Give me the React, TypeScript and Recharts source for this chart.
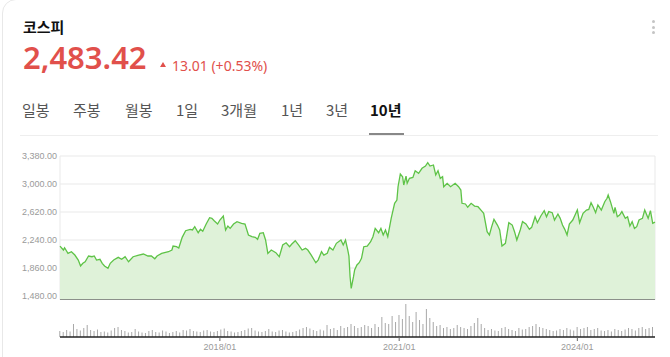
import React from 'react';
import { AreaChart, Area, XAxis, YAxis, CartesianGrid, BarChart, Bar, ReferenceLine } from 'recharts';

// Weekly index counted from 2015-04-27 (week 0) to 2025-04 (week 521)
const START_DATE = '2015-04-27';
const TITLE = '코스피';
const LAST_PRICE = '2,483.42';
const CHANGE_TEXT = '13.01 (+0.53%)';
const TABS = ['일봉', '주봉', '월봉', '1일', '3개월', '1년', '3년', '10년'];
const ACTIVE_TAB = '10년';

const priceWeeks = [0,3,4,7,10,13,16,18,20,22,25,28,30,32,35,37,39,42,44,47,51,54,57,60,64,69,73,77,80,83,85,89,95,98,99,102,104,107,110,114,116,118,121,123,125,128,131,133,135,138,140,143,145,147,149,152,155,159,162,165,168,171,173,175,178,180,181,182,185,189,192,195,198,201,203,206,209,212,215,217,220,224,226,229,231,234,236,239,242,246,248,250,252,253,254,255,257,258,260,262,264,266,269,272,274,276,279,281,283,285,287,290,293,295,296,298,300,301,303,304,306,309,311,314,317,320,322,324,327,329,331,333,335,336,339,342,346,349,351,352,355,357,360,363,366,369,371,374,376,378,380,383,385,387,390,393,396,398,400,403,405,408,411,413,416,418,421,424,426,428,431,433,436,438,440,442,444,446,449,451,453,455,458,461,463,465,467,469,471,474,477,479,480,482,485,486,488,490,492,495,497,499,501,503,505,507,510,512,515,517,519,521];

const priceCloses = [2158,2104,2135,2059,2081,2036,1968,1887,1924,1945,2023,2013,2023,1968,1978,1924,1887,1856,1924,1968,2005,1978,2013,1945,2013,2036,2050,2023,2023,1986,2023,2059,2081,2104,2158,2149,2131,2276,2366,2385,2376,2421,2339,2385,2358,2457,2543,2534,2502,2457,2511,2566,2376,2430,2398,2457,2489,2466,2457,2308,2285,2276,2249,2331,2339,2240,2149,2059,2104,2068,2013,2172,2203,2149,2186,2231,2172,2104,2127,2104,2036,1932,1968,2081,2036,2059,2140,2104,2195,2240,2172,2240,2104,2023,1742,1584,1742,1833,1901,1932,1991,2149,2158,2217,2285,2398,2339,2398,2308,2376,2285,2534,2738,2783,2963,3136,3099,2986,3108,3009,3077,3090,3180,3145,3213,3244,3289,3244,3258,3122,3180,3077,3099,2963,3009,2963,3009,2963,2918,2738,2729,2684,2738,2701,2692,2638,2602,2353,2308,2421,2520,2443,2376,2158,2195,2475,2443,2353,2240,2376,2489,2457,2385,2412,2556,2475,2566,2638,2556,2625,2611,2511,2593,2534,2443,2385,2308,2457,2511,2579,2647,2475,2602,2647,2656,2746,2684,2611,2715,2647,2760,2806,2851,2760,2602,2684,2556,2579,2625,2534,2556,2430,2489,2398,2421,2511,2534,2647,2534,2638,2466,2483];

// Volume (million shares), one value every 3 weeks starting at week 0
const VOLUME_STEP_WEEKS = 3;
const volumes = [600,500,700,550,1300,800,650,900,1200,700,600,750,500,550,450,650,900,1000,700,600,450,500,800,550,450,400,600,700,500,450,650,550,400,500,600,450,700,650,800,600,550,500,650,700,550,500,600,750,850,600,550,450,500,600,700,850,900,650,550,500,600,800,550,500,650,700,550,450,500,600,750,900,1000,850,700,600,750,650,1200,800,900,700,1100,900,1000,1300,1100,900,1000,1200,1100,900,1300,1000,2000,1400,1300,2100,1500,2200,1800,3300,2100,1500,2500,1700,1300,2800,1900,1500,1100,1200,900,1000,800,900,1200,1000,900,800,1100,1400,1900,1300,900,700,800,650,600,900,1000,800,700,600,900,750,800,1000,1100,1300,1000,900,800,700,600,650,800,700,900,750,650,1000,800,900,1000,700,800,900,650,600,700,550,800,700,600,750,900,800,650,900,1000,800,900,1000];

const xTickWeeks = [140, 297, 453];
const xTickLabels = ['2018/01', '2021/01', '2024/01'];
const yTicks = [1480, 1860, 2240, 2620, 3000, 3380];
const yDomain = [1426, 3380];
const xDomain = [0, 521];

const priceData = priceWeeks.map((w, i) => ({ week: w, close: priceCloses[i] }));
const volumeData = volumes.map((v, i) => ({ week: i * VOLUME_STEP_WEEKS, vol: v }));

const fmtPrice = (v: number) =>
  v.toLocaleString('en-US', { minimumFractionDigits: 2, maximumFractionDigits: 2 });
const fmtDate = (w: number) => {
  const i = xTickWeeks.indexOf(w);
  return i >= 0 ? xTickLabels[i] : '';
};

const RED = '#e1504b';
const KR = '"Noto Sans CJK KR", "Noto Sans", sans-serif';

const tabLefts = [22, 73, 125, 176, 221, 281, 326, 370];

export default function App() {
  return (
    <div
      style={{
        position: 'fixed',
        left: 0,
        top: 0,
        width: 670,
        height: 357,
        overflow: 'hidden',
        background: '#fff',
        fontFamily: KR,
      }}
    >
      <div
        style={{
          position: 'absolute',
          left: 2,
          top: -1,
          width: 720,
          height: 420,
          border: '1px solid #e8e8e8',
          borderRadius: 14,
        }}
      />
      <div style={{ position: 'absolute', left: 23, top: 17, fontSize: 15, lineHeight: '20px', fontWeight: 700, color: '#111' }}>
        {TITLE}
      </div>
      {[0, 1, 2].map((i) => (
        <div
          key={i}
          style={{
            position: 'absolute',
            left: 652,
            top: 20 + i * 5.5,
            width: 3,
            height: 3,
            borderRadius: 2,
            background: '#c4c4c4',
          }}
        />
      ))}
      <div
        style={{
          position: 'absolute',
          left: 23,
          top: 40,
          fontSize: 31,
          lineHeight: '35px',
          fontWeight: 600,
          color: RED,
          fontFamily: '"Noto Sans", sans-serif',
        }}
      >
        {LAST_PRICE}
      </div>
      <div
        style={{
          position: 'absolute',
          left: 160,
          top: 62,
          width: 0,
          height: 0,
          borderLeft: '3.5px solid transparent',
          borderRight: '3.5px solid transparent',
          borderBottom: `5px solid ${RED}`,
        }}
      />
      <div
        style={{
          position: 'absolute',
          left: 172,
          top: 58,
          fontSize: 14,
          lineHeight: '16px',
          color: RED,
          fontFamily: '"Noto Sans", sans-serif',
        }}
      >
        {CHANGE_TEXT}
      </div>
      {TABS.map((t, i) => (
        <div
          key={t}
          style={{
            position: 'absolute',
            left: tabLefts[i],
            top: 99,
            fontSize: 15,
            lineHeight: '22px',
            fontWeight: t === ACTIVE_TAB ? 700 : 400,
            color: t === ACTIVE_TAB ? '#111' : '#555',
            whiteSpace: 'nowrap',
          }}
        >
          {t}
        </div>
      ))}
      <div style={{ position: 'absolute', left: 20, top: 135, width: 638, height: 1, background: '#eeeeee' }} />
      <div style={{ position: 'absolute', left: 369, top: 133, width: 35, height: 2, background: '#888' }} />

      <div style={{ position: 'absolute', left: 0, top: 150 }}>
        <AreaChart width={670} height={150} data={priceData} margin={{ top: 6, right: 15, bottom: 0, left: 0 }}>
          <CartesianGrid stroke="#e9e9e9" strokeWidth={1} />
          <XAxis
            dataKey="week"
            type="number"
            domain={xDomain}
            ticks={xTickWeeks}
            tick={false}
            tickLine={false}
            axisLine={false}
            height={0}
          />
          <YAxis
            type="number"
            domain={yDomain}
            ticks={yTicks}
            interval={0}
            width={60}
            tickSize={3}
            tickMargin={0}
            tickLine={false}
            axisLine={false}
            tickFormatter={fmtPrice}
            tick={{ fontSize: 9, fill: '#9a9a9a', fontFamily: '"Liberation Sans", Arial, sans-serif' }}
            allowDataOverflow
          />
          <Area
            type="linear"
            dataKey="close"
            stroke="#5ec347"
            strokeWidth={1.3}
            fill="#dff2d9"
            fillOpacity={1}
            dot={false}
            activeDot={false}
            isAnimationActive={false}
          />
          <ReferenceLine y={yDomain[0]} stroke="#6f6f6f" strokeWidth={1.5} />
        </AreaChart>
      </div>

      <div style={{ position: 'absolute', left: 0, top: 300 }}>
        <BarChart width={670} height={57} data={volumeData} margin={{ top: 3, right: 15, bottom: 0, left: 60 }}>
          <XAxis
            dataKey="week"
            type="number"
            domain={xDomain}
            ticks={xTickWeeks}
            tickFormatter={fmtDate}
            height={20}
            tickSize={4}
            tickMargin={3}
            axisLine={{ stroke: '#222', strokeWidth: 1.5 }}
            tickLine={{ stroke: '#666' }}
            tick={{ fontSize: 9, fill: '#9a9a9a', fontFamily: '"Liberation Sans", Arial, sans-serif' }}
          />
          <YAxis hide domain={[0, 3400]} />
          <Bar dataKey="vol" fill="#a8a8a8" barSize={1} isAnimationActive={false} />
        </BarChart>
      </div>
    </div>
  );
}
